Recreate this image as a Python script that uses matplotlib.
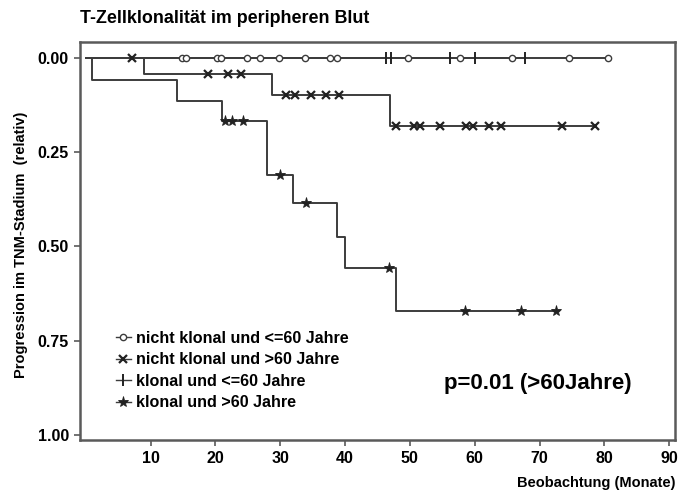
import matplotlib.pyplot as plt
import numpy as np

plt.rcParams['font.family'] = ['Liberation Sans', 'DejaVu Sans']
plt.rcParams['font.weight'] = 'bold'

# step data (months, relative progression)
g1_events = []
g1_levels = []
g1_end = 80.5
g1_censor = [14.8, 15.5, 20.2, 20.9, 24.8, 26.8, 29.8, 33.8, 37.7, 38.8,
             49.7, 57.7, 65.7, 74.5, 80.5]

g2_events = [8.9, 28.8, 46.9]
g2_levels = [0.042, 0.098, 0.18]
g2_end = 78.6
g2_censor = [7.1, 18.8, 21.9, 24.0, 30.9, 32.2, 34.8, 37.0, 39.0,
             47.8, 50.6, 51.6, 54.6, 58.6, 59.7, 62.2, 64.0, 73.4, 78.6]

g3_events = []
g3_levels = []
g3_end = 67.8
g3_censor = [46.3, 47.1, 56.2, 60.0, 67.8]

g4_events = [1.0, 14.0, 21.0, 28.0, 31.9, 38.8, 40.0, 47.9]
g4_levels = [0.06, 0.115, 0.167, 0.31, 0.385, 0.474, 0.558, 0.672]
g4_end = 72.6
g4_censor = [21.4, 22.6, 24.2, 30.0, 34.0, 46.8, 58.5, 67.1, 72.6]

labels = ['nicht klonal und <=60 Jahre', 'nicht klonal und >60 Jahre',
          'klonal und <=60 Jahre', 'klonal und >60 Jahre']
markers = ['o', 'x', '|', '*']

groups = [(g1_events, g1_levels, g1_end, g1_censor),
          (g2_events, g2_levels, g2_end, g2_censor),
          (g3_events, g3_levels, g3_end, g3_censor),
          (g4_events, g4_levels, g4_end, g4_censor)]

line_col = '#3c3c3c'
spine_col = '#5a5a5a'

fig = plt.figure(figsize=(6.89, 4.95), dpi=100)
ax = fig.add_axes([0.1161, 0.1111, 0.8636, 0.8041])

handles = []
for (ev, lv, end, cen), lab, mk in zip(groups, labels, markers):
    xs = [0.0] + list(ev) + [end]
    ys = [0.0] + list(lv) + [lv[-1] if lv else 0.0]
    ax.step(xs, ys, where='post', color=line_col, lw=1.4)
    # level of the curve at each censor time
    idx = np.searchsorted(np.array(xs), np.array(cen), side='right') - 1
    cy = np.array(ys)[idx]
    if mk == 'o':
        kw = dict(ms=4.5, mfc='white', mec=line_col, mew=1.0)
    elif mk == 'x':
        kw = dict(ms=5.5, mec='#222222', mew=1.6)
    elif mk == '|':
        kw = dict(ms=9, mec='#222222', mew=1.4)
    else:
        kw = dict(ms=8, mfc='#222222', mec='#222222', mew=0.6)
    ax.plot(cen, cy, ls='none', marker=mk, zorder=3, **kw)
    h, = ax.plot([], [], color=line_col, lw=1.0, marker=mk, **kw)
    handles.append(h)

ax.set_xlim(-0.9, 90.9)
ax.set_ylim(1.013, -0.042)
ax.set_xticks([10, 20, 30, 40, 50, 60, 70, 80, 90])
ax.set_yticks([0.0, 0.25, 0.5, 0.75, 1.0])
ax.set_yticklabels(['0.00', '0.25', '0.50', '0.75', '1.00'])
ax.tick_params(axis='both', direction='out', length=4, width=1.2,
               color=spine_col, labelsize=11.5, pad=4)
for lab in ax.get_xticklabels() + ax.get_yticklabels():
    lab.set_fontweight('bold')
for s in ax.spines.values():
    s.set_color(spine_col)
    s.set_linewidth(1.8)

leg = ax.legend(handles, labels, loc='upper left', bbox_to_anchor=(0.05, 0.29),
                frameon=False, handlelength=0.9, handletextpad=0.35,
                labelspacing=0.4, borderaxespad=0,
                prop={'weight': 'bold', 'size': 11.6})

ax.text(0.612, 0.143, 'p=0.01 (>60Jahre)', transform=ax.transAxes,
        fontsize=16, fontweight='bold', va='center', ha='left')

fig.text(0.116, 0.963, 'T-Zellklonalität im peripheren Blut', fontsize=12.9,
         fontweight='bold', va='center', ha='left')
fig.text(0.98, 0.024, 'Beobachtung (Monate)', fontsize=10.5,
         fontweight='bold', va='center', ha='right')
fig.text(0.03, 0.505, 'Progression im TNM-Stadium  (relativ)', fontsize=10.5,
         fontweight='bold', rotation=90, va='center', ha='center')

fig.savefig('out.png', dpi=100)
